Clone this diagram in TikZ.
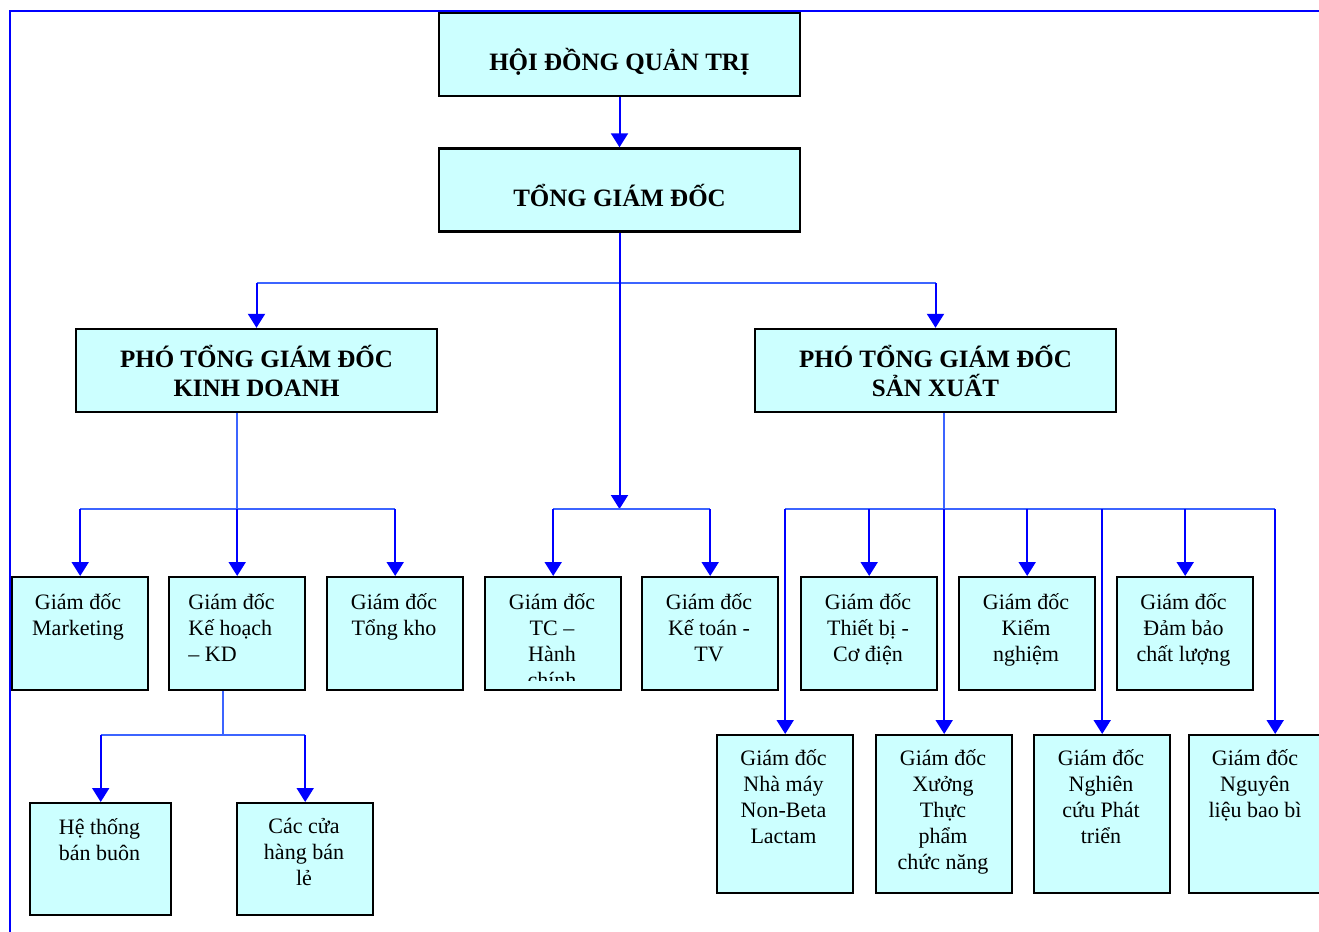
\documentclass[tikz,border=0pt]{standalone}
\usepackage{fontspec}
\setmainfont{Liberation Serif}
\usetikzlibrary{arrows.meta,calc}
\definecolor{boxcyan}{RGB}{204,255,255}
\definecolor{wire}{RGB}{0,0,255}
\definecolor{wirelight}{RGB}{60,100,255}

\begin{document}
\begin{tikzpicture}[
  x=0.5pt,y=-0.5pt,
  head/.style={draw=black,fill=boxcyan,line width=1.2pt,inner sep=0pt,
               minimum width=180.5pt,minimum height=41.5pt,align=center,
               font=\bfseries\fontsize{12.5}{14.5}\selectfont},
  unit/.style={draw=black,fill=boxcyan,line width=1.2pt,inner sep=0pt,
               anchor=north west,minimum width=68pt,minimum height=56.5pt},
  tall/.style={unit,minimum height=79pt},
  txt/.style={anchor=north,align=center,inner sep=0pt,
              font=\fontsize{11}{13}\selectfont},
  link/.style={draw=wirelight,line width=0.9pt},
  arr/.style={-{Triangle[length=7pt,width=8.5pt]},draw=wire,line width=1pt}]

\useasboundingbox (0,0) rectangle (1319,932);

% frame
\draw[wire,line width=1pt] (10,932) -- (10,11) -- (1319,11);

% top of the chart
\node[head,align=none] (hdqt) at (619.5,54.5)
  {\raisebox{-3.5pt}[\height][\depth]{HỘI ĐỒNG QUẢN TRỊ}};
\node[head,align=none] (tgd)  at (619.5,190)
  {\raisebox{-2.5pt}[\height][\depth]{TỔNG GIÁM ĐỐC}};
\node[head] (ptkd) at (256.5,370.5) {PHÓ TỔNG GIÁM ĐỐC\\KINH DOANH};
\node[head] (ptsx) at (935.5,370.5) {PHÓ TỔNG GIÁM ĐỐC\\SẢN XUẤT};

% second row
\node[unit] (mk)   at (11,576)   {};
\node[unit] (khkd) at (168,576)  {};
\node[unit] (tk)   at (326,576)  {};
\node[unit] (tc)   at (484,576)  {};
\node[unit] (kt)   at (641,576)  {};
\node[unit] (tb)   at (800,576)  {};
\node[unit] (kn)   at (958,576)  {};
\node[unit] (db)   at (1116,576) {};

\node[txt] (mk-t) at (78,593)  {Giám đốc\\Marketing};
\node[txt,anchor=north west,align=left] (khkd-t) at (188,593)
  {Giám đốc\\Kế hoạch\\– KD};
\node[txt] (tk-t) at (394,593)  {Giám đốc\\Tổng kho};
\begin{scope}
  \clip (484,576) rectangle (620,680);
  \node[txt] (tc-t) at (552,593) {Giám đốc\\TC –\\Hành\\chính};
\end{scope}
\node[txt] (kt-t) at (709,593)  {Giám đốc\\Kế toán -\\TV};
\node[txt] (tb-t) at (868,593)  {Giám đốc\\Thiết bị -\\Cơ điện};
\node[txt] (kn-t) at (1026,593) {Giám đốc\\Kiểm\\nghiệm};
\node[txt] (db-t) at (1183.5,593) {Giám đốc\\Đảm bảo\\chất lượng};

% third row
\node[unit,minimum width=70.5pt,minimum height=56pt] (ht) at (29,802) {};
\node[unit,minimum height=56pt] (cc) at (236,802) {};
\node[tall] (nm) at (716,734)  {};
\node[tall] (xt) at (875,734)  {};
\node[tall] (ng) at (1033,734) {};
\node[tall] (nl) at (1188,734) {};

\node[txt] (ht-t) at (99.5,818) {Hệ thống\\bán buôn};
\node[txt] (cc-t) at (304,818)  {Các cửa\\hàng bán\\lẻ};
\node[txt] (nm-t) at (783.5,749) {Giám đốc\\Nhà máy\\Non-Beta\\Lactam};
\node[txt] (xt-t) at (943,749)  {Giám đốc\\Xưởng\\Thực\\phẩm\\chức năng};
\node[txt] (ng-t) at (1101,749) {Giám đốc\\Nghiên\\cứu Phát\\triển};
\node[txt] (nl-t) at (1255,749) {Giám đốc\\Nguyên\\liệu bao bì};

% bus lines
\coordinate (busA) at (0,283);
\coordinate (busB) at (0,509);
\coordinate (busC) at (0,735);
\coordinate (kdout) at ($(khkd.south)+(-14,0)$);
\coordinate (nlin) at ($(nl.north)+(18,0)$);

\draw[arr] (hdqt) -- (tgd);

\draw[link] (tgd.south) -- (tgd.south |- busA);
\draw[link] (ptkd.north |- busA) -- (ptsx.north |- busA);
\draw[arr] (ptkd.north |- busA) -- (ptkd.north);
\draw[arr] (ptsx.north |- busA) -- (ptsx.north);

\draw[arr] (tgd.south) -- (tgd.south |- busB);
\draw[link] (tc.north |- busB) -- (kt.north |- busB);
\draw[arr] (tc.north |- busB) -- (tc.north);
\draw[arr] (kt.north |- busB) -- (kt.north);

\draw[link] (khkd.north |- ptkd.south) -- (khkd.north |- busB);
\draw[link] (mk.north |- busB) -- (tk.north |- busB);
\draw[arr] (mk.north |- busB) -- (mk.north);
\draw[arr] (khkd.north |- busB) -- (khkd.north);
\draw[arr] (tk.north |- busB) -- (tk.north);

\draw[link] (xt.north |- ptsx.south) -- (xt.north |- busB);
\draw[link] (nm.north |- busB) -- (nlin |- busB);
\draw[arr] (nm.north |- busB) -- (nm.north);
\draw[arr] (tb.north |- busB) -- (tb.north);
\draw[arr] (xt.north |- busB) -- (xt.north);
\draw[arr] (kn.north |- busB) -- (kn.north);
\draw[arr] (ng.north |- busB) -- (ng.north);
\draw[arr] (db.north |- busB) -- (db.north);
\draw[arr] (nlin |- busB) -- (nlin);

\draw[link] (kdout) -- (kdout |- busC);
\draw[link] (ht.north |- busC) -- (cc.north |- busC);
\draw[arr] (ht.north |- busC) -- (ht.north);
\draw[arr] (cc.north |- busC) -- (cc.north);
\end{tikzpicture}
\end{document}
